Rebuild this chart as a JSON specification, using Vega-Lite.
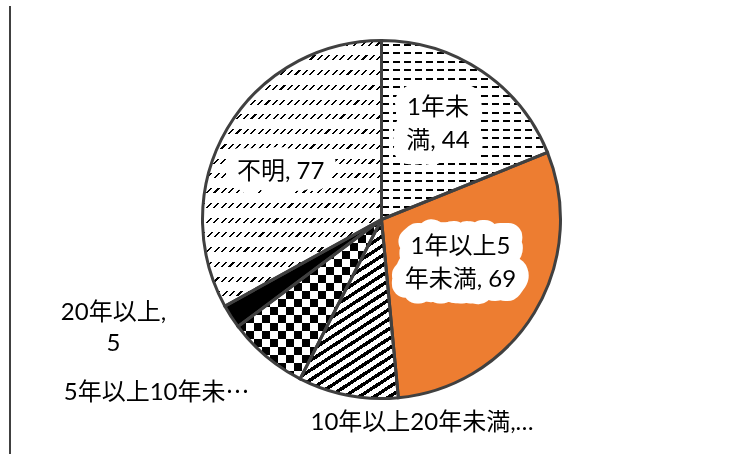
{
"$schema": "https://vega.github.io/schema/vega-lite/v6.json",
"width": 763,
"height": 439,
"autosize": {"type": "none"},
"padding": {"left": 0, "top": 0, "right": -23, "bottom": 15},
"background": "white",
"config": {"view": {"stroke": null}},
"data": {"values": [
{"cat": "1年未満", "value": 44, "order": 1, "label": "1年未\n満, 44"},
{"cat": "1年以上5年未満", "value": 69, "order": 2, "label": "1年以上5\n年未満, 69"},
{"cat": "10年以上20年未満", "value": 21, "order": 3, "label": "10年以上20年未満,…"},
{"cat": "5年以上10年未満", "value": 17, "order": 4, "label": "5年以上10年未⋯"},
{"cat": "20年以上", "value": 5, "order": 5, "label": "20年以上,\n5"},
{"cat": "不明", "value": 77, "order": 6, "label": "不明, 77"}
]},
"layer": [
{
"encoding": {
"theta": {"field": "value", "type": "quantitative", "stack": true},
"order": {"field": "order", "type": "quantitative"},
"detail": {"field": "cat", "type": "nominal"}
},
"layer": [
{
"mark": {"type": "arc", "outerRadius": 179, "strokeWidth": 0},
"encoding": {"fill": {"condition": [
{"test": "datum.order === 1", "value": {"gradient": "linear", "x1": 0, "y1": 0, "x2": 0, "y2": 1, "stops": [
{"offset":0,"color":"#fff"},
{"offset":0.018,"color":"#fff"},{"offset":0.018,"color":"#000"},{"offset":0.0292,"color":"#000"},{"offset":0.0292,"color":"#fff"},
{"offset":0.0656,"color":"#fff"},{"offset":0.0656,"color":"#000"},{"offset":0.0768,"color":"#000"},{"offset":0.0768,"color":"#fff"},
{"offset":0.1132,"color":"#fff"},{"offset":0.1132,"color":"#000"},{"offset":0.1244,"color":"#000"},{"offset":0.1244,"color":"#fff"},
{"offset":0.1609,"color":"#fff"},{"offset":0.1609,"color":"#000"},{"offset":0.1721,"color":"#000"},{"offset":0.1721,"color":"#fff"},
{"offset":0.2085,"color":"#fff"},{"offset":0.2085,"color":"#000"},{"offset":0.2197,"color":"#000"},{"offset":0.2197,"color":"#fff"},
{"offset":0.2561,"color":"#fff"},{"offset":0.2561,"color":"#000"},{"offset":0.2673,"color":"#000"},{"offset":0.2673,"color":"#fff"},
{"offset":0.3037,"color":"#fff"},{"offset":0.3037,"color":"#000"},{"offset":0.3149,"color":"#000"},{"offset":0.3149,"color":"#fff"},
{"offset":0.3513,"color":"#fff"},{"offset":0.3513,"color":"#000"},{"offset":0.3625,"color":"#000"},{"offset":0.3625,"color":"#fff"},
{"offset":0.399,"color":"#fff"},{"offset":0.399,"color":"#000"},{"offset":0.4102,"color":"#000"},{"offset":0.4102,"color":"#fff"},
{"offset":0.4466,"color":"#fff"},{"offset":0.4466,"color":"#000"},{"offset":0.4578,"color":"#000"},{"offset":0.4578,"color":"#fff"},
{"offset":0.4942,"color":"#fff"},{"offset":0.4942,"color":"#000"},{"offset":0.5054,"color":"#000"},{"offset":0.5054,"color":"#fff"},
{"offset":0.5418,"color":"#fff"},{"offset":0.5418,"color":"#000"},{"offset":0.553,"color":"#000"},{"offset":0.553,"color":"#fff"},
{"offset":0.5894,"color":"#fff"},{"offset":0.5894,"color":"#000"},{"offset":0.6006,"color":"#000"},{"offset":0.6006,"color":"#fff"},
{"offset":0.637,"color":"#fff"},{"offset":0.637,"color":"#000"},{"offset":0.6482,"color":"#000"},{"offset":0.6482,"color":"#fff"},
{"offset":0.6847,"color":"#fff"},{"offset":0.6847,"color":"#000"},{"offset":0.6959,"color":"#000"},{"offset":0.6959,"color":"#fff"},
{"offset":0.7323,"color":"#fff"},{"offset":0.7323,"color":"#000"},{"offset":0.7435,"color":"#000"},{"offset":0.7435,"color":"#fff"},
{"offset":0.7799,"color":"#fff"},{"offset":0.7799,"color":"#000"},{"offset":0.7911,"color":"#000"},{"offset":0.7911,"color":"#fff"},
{"offset":0.8275,"color":"#fff"},{"offset":0.8275,"color":"#000"},{"offset":0.8387,"color":"#000"},{"offset":0.8387,"color":"#fff"},
{"offset":0.8751,"color":"#fff"},{"offset":0.8751,"color":"#000"},{"offset":0.8863,"color":"#000"},{"offset":0.8863,"color":"#fff"},
{"offset":0.9228,"color":"#fff"},{"offset":0.9228,"color":"#000"},{"offset":0.934,"color":"#000"},{"offset":0.934,"color":"#fff"},
{"offset":0.9704,"color":"#fff"},{"offset":0.9704,"color":"#000"},{"offset":0.9816,"color":"#000"},{"offset":0.9816,"color":"#fff"},
{"offset":1,"color":"#fff"}]}},
{"test": "datum.order === 2", "value": "#ED7D31"},
{"test": "datum.order === 3", "value": {"gradient": "linear", "x1": 0, "y1": 0, "x2": 0.428, "y2": 1.203, "stops": [
{"offset":0,"color":"#000"},{"offset":0.0168,"color":"#000"},{"offset":0.0168,"color":"#fff"},{"offset":0.04,"color":"#fff"},
{"offset":0.04,"color":"#000"},{"offset":0.0568,"color":"#000"},{"offset":0.0568,"color":"#fff"},{"offset":0.08,"color":"#fff"},
{"offset":0.08,"color":"#000"},{"offset":0.0968,"color":"#000"},{"offset":0.0968,"color":"#fff"},{"offset":0.12,"color":"#fff"},
{"offset":0.12,"color":"#000"},{"offset":0.1368,"color":"#000"},{"offset":0.1368,"color":"#fff"},{"offset":0.16,"color":"#fff"},
{"offset":0.16,"color":"#000"},{"offset":0.1768,"color":"#000"},{"offset":0.1768,"color":"#fff"},{"offset":0.2,"color":"#fff"},
{"offset":0.2,"color":"#000"},{"offset":0.2168,"color":"#000"},{"offset":0.2168,"color":"#fff"},{"offset":0.24,"color":"#fff"},
{"offset":0.24,"color":"#000"},{"offset":0.2568,"color":"#000"},{"offset":0.2568,"color":"#fff"},{"offset":0.28,"color":"#fff"},
{"offset":0.28,"color":"#000"},{"offset":0.2968,"color":"#000"},{"offset":0.2968,"color":"#fff"},{"offset":0.32,"color":"#fff"},
{"offset":0.32,"color":"#000"},{"offset":0.3368,"color":"#000"},{"offset":0.3368,"color":"#fff"},{"offset":0.36,"color":"#fff"},
{"offset":0.36,"color":"#000"},{"offset":0.3768,"color":"#000"},{"offset":0.3768,"color":"#fff"},{"offset":0.4,"color":"#fff"},
{"offset":0.4,"color":"#000"},{"offset":0.4168,"color":"#000"},{"offset":0.4168,"color":"#fff"},{"offset":0.44,"color":"#fff"},
{"offset":0.44,"color":"#000"},{"offset":0.4568,"color":"#000"},{"offset":0.4568,"color":"#fff"},{"offset":0.48,"color":"#fff"},
{"offset":0.48,"color":"#000"},{"offset":0.4968,"color":"#000"},{"offset":0.4968,"color":"#fff"},{"offset":0.52,"color":"#fff"},
{"offset":0.52,"color":"#000"},{"offset":0.5368,"color":"#000"},{"offset":0.5368,"color":"#fff"},{"offset":0.56,"color":"#fff"},
{"offset":0.56,"color":"#000"},{"offset":0.5768,"color":"#000"},{"offset":0.5768,"color":"#fff"},{"offset":0.6,"color":"#fff"},
{"offset":0.6,"color":"#000"},{"offset":0.6168,"color":"#000"},{"offset":0.6168,"color":"#fff"},{"offset":0.64,"color":"#fff"},
{"offset":0.64,"color":"#000"},{"offset":0.6568,"color":"#000"},{"offset":0.6568,"color":"#fff"},{"offset":0.68,"color":"#fff"},
{"offset":0.68,"color":"#000"},{"offset":0.6968,"color":"#000"},{"offset":0.6968,"color":"#fff"},{"offset":0.72,"color":"#fff"},
{"offset":0.72,"color":"#000"},{"offset":0.7368,"color":"#000"},{"offset":0.7368,"color":"#fff"},{"offset":0.76,"color":"#fff"},
{"offset":0.76,"color":"#000"},{"offset":0.7768,"color":"#000"},{"offset":0.7768,"color":"#fff"},{"offset":0.8,"color":"#fff"},
{"offset":0.8,"color":"#000"},{"offset":0.8168,"color":"#000"},{"offset":0.8168,"color":"#fff"},{"offset":0.84,"color":"#fff"},
{"offset":0.84,"color":"#000"},{"offset":0.8568,"color":"#000"},{"offset":0.8568,"color":"#fff"},{"offset":0.88,"color":"#fff"},
{"offset":0.88,"color":"#000"},{"offset":0.8968,"color":"#000"},{"offset":0.8968,"color":"#fff"},{"offset":0.92,"color":"#fff"},
{"offset":0.92,"color":"#000"},{"offset":0.9368,"color":"#000"},{"offset":0.9368,"color":"#fff"},{"offset":0.96,"color":"#fff"},
{"offset":0.96,"color":"#000"},{"offset":0.9768,"color":"#000"},{"offset":0.9768,"color":"#fff"},{"offset":1,"color":"#fff"}]}},
{"test": "datum.order === 4", "value": {"gradient": "linear", "x1": 0, "y1": 0, "x2": 1, "y2": 0, "stops": [
{"offset":0,"color":"#000"},{"offset":0.0556,"color":"#000"},{"offset":0.0556,"color":"#fff"},{"offset":0.1111,"color":"#fff"},
{"offset":0.1111,"color":"#000"},{"offset":0.1667,"color":"#000"},{"offset":0.1667,"color":"#fff"},{"offset":0.2222,"color":"#fff"},
{"offset":0.2222,"color":"#000"},{"offset":0.2778,"color":"#000"},{"offset":0.2778,"color":"#fff"},{"offset":0.3333,"color":"#fff"},
{"offset":0.3333,"color":"#000"},{"offset":0.3889,"color":"#000"},{"offset":0.3889,"color":"#fff"},{"offset":0.4444,"color":"#fff"},
{"offset":0.4444,"color":"#000"},{"offset":0.5,"color":"#000"},{"offset":0.5,"color":"#fff"},{"offset":0.5556,"color":"#fff"},
{"offset":0.5556,"color":"#000"},{"offset":0.6111,"color":"#000"},{"offset":0.6111,"color":"#fff"},{"offset":0.6667,"color":"#fff"},
{"offset":0.6667,"color":"#000"},{"offset":0.7222,"color":"#000"},{"offset":0.7222,"color":"#fff"},{"offset":0.7778,"color":"#fff"},
{"offset":0.7778,"color":"#000"},{"offset":0.8333,"color":"#000"},{"offset":0.8333,"color":"#fff"},{"offset":0.8889,"color":"#fff"},
{"offset":0.8889,"color":"#000"},{"offset":0.9444,"color":"#000"},{"offset":0.9444,"color":"#fff"},{"offset":1,"color":"#fff"}]}},
{"test": "datum.order === 5", "value": "#000"},
{"test": "datum.order === 6", "value": {"gradient": "linear", "x1": 0, "y1": 0, "x2": 0.775, "y2": 1.151, "stops": [
{"offset":0,"color":"#000"},{"offset":0.0048,"color":"#000"},{"offset":0.0048,"color":"#fff"},{"offset":0.0167,"color":"#fff"},
{"offset":0.0167,"color":"#000"},{"offset":0.0215,"color":"#000"},{"offset":0.0215,"color":"#fff"},{"offset":0.0333,"color":"#fff"},
{"offset":0.0333,"color":"#000"},{"offset":0.0381,"color":"#000"},{"offset":0.0381,"color":"#fff"},{"offset":0.05,"color":"#fff"},
{"offset":0.05,"color":"#000"},{"offset":0.0548,"color":"#000"},{"offset":0.0548,"color":"#fff"},{"offset":0.0667,"color":"#fff"},
{"offset":0.0667,"color":"#000"},{"offset":0.0715,"color":"#000"},{"offset":0.0715,"color":"#fff"},{"offset":0.0833,"color":"#fff"},
{"offset":0.0833,"color":"#000"},{"offset":0.0881,"color":"#000"},{"offset":0.0881,"color":"#fff"},{"offset":0.1,"color":"#fff"},
{"offset":0.1,"color":"#000"},{"offset":0.1048,"color":"#000"},{"offset":0.1048,"color":"#fff"},{"offset":0.1167,"color":"#fff"},
{"offset":0.1167,"color":"#000"},{"offset":0.1215,"color":"#000"},{"offset":0.1215,"color":"#fff"},{"offset":0.1333,"color":"#fff"},
{"offset":0.1333,"color":"#000"},{"offset":0.1381,"color":"#000"},{"offset":0.1381,"color":"#fff"},{"offset":0.15,"color":"#fff"},
{"offset":0.15,"color":"#000"},{"offset":0.1548,"color":"#000"},{"offset":0.1548,"color":"#fff"},{"offset":0.1667,"color":"#fff"},
{"offset":0.1667,"color":"#000"},{"offset":0.1715,"color":"#000"},{"offset":0.1715,"color":"#fff"},{"offset":0.1833,"color":"#fff"},
{"offset":0.1833,"color":"#000"},{"offset":0.1881,"color":"#000"},{"offset":0.1881,"color":"#fff"},{"offset":0.2,"color":"#fff"},
{"offset":0.2,"color":"#000"},{"offset":0.2048,"color":"#000"},{"offset":0.2048,"color":"#fff"},{"offset":0.2167,"color":"#fff"},
{"offset":0.2167,"color":"#000"},{"offset":0.2215,"color":"#000"},{"offset":0.2215,"color":"#fff"},{"offset":0.2333,"color":"#fff"},
{"offset":0.2333,"color":"#000"},{"offset":0.2381,"color":"#000"},{"offset":0.2381,"color":"#fff"},{"offset":0.25,"color":"#fff"},
{"offset":0.25,"color":"#000"},{"offset":0.2548,"color":"#000"},{"offset":0.2548,"color":"#fff"},{"offset":0.2667,"color":"#fff"},
{"offset":0.2667,"color":"#000"},{"offset":0.2715,"color":"#000"},{"offset":0.2715,"color":"#fff"},{"offset":0.2833,"color":"#fff"},
{"offset":0.2833,"color":"#000"},{"offset":0.2881,"color":"#000"},{"offset":0.2881,"color":"#fff"},{"offset":0.3,"color":"#fff"},
{"offset":0.3,"color":"#000"},{"offset":0.3048,"color":"#000"},{"offset":0.3048,"color":"#fff"},{"offset":0.3167,"color":"#fff"},
{"offset":0.3167,"color":"#000"},{"offset":0.3215,"color":"#000"},{"offset":0.3215,"color":"#fff"},{"offset":0.3333,"color":"#fff"},
{"offset":0.3333,"color":"#000"},{"offset":0.3381,"color":"#000"},{"offset":0.3381,"color":"#fff"},{"offset":0.35,"color":"#fff"},
{"offset":0.35,"color":"#000"},{"offset":0.3548,"color":"#000"},{"offset":0.3548,"color":"#fff"},{"offset":0.3667,"color":"#fff"},
{"offset":0.3667,"color":"#000"},{"offset":0.3715,"color":"#000"},{"offset":0.3715,"color":"#fff"},{"offset":0.3833,"color":"#fff"},
{"offset":0.3833,"color":"#000"},{"offset":0.3881,"color":"#000"},{"offset":0.3881,"color":"#fff"},{"offset":0.4,"color":"#fff"},
{"offset":0.4,"color":"#000"},{"offset":0.4048,"color":"#000"},{"offset":0.4048,"color":"#fff"},{"offset":0.4167,"color":"#fff"},
{"offset":0.4167,"color":"#000"},{"offset":0.4215,"color":"#000"},{"offset":0.4215,"color":"#fff"},{"offset":0.4333,"color":"#fff"},
{"offset":0.4333,"color":"#000"},{"offset":0.4381,"color":"#000"},{"offset":0.4381,"color":"#fff"},{"offset":0.45,"color":"#fff"},
{"offset":0.45,"color":"#000"},{"offset":0.4548,"color":"#000"},{"offset":0.4548,"color":"#fff"},{"offset":0.4667,"color":"#fff"},
{"offset":0.4667,"color":"#000"},{"offset":0.4715,"color":"#000"},{"offset":0.4715,"color":"#fff"},{"offset":0.4833,"color":"#fff"},
{"offset":0.4833,"color":"#000"},{"offset":0.4881,"color":"#000"},{"offset":0.4881,"color":"#fff"},{"offset":0.5,"color":"#fff"},
{"offset":0.5,"color":"#000"},{"offset":0.5048,"color":"#000"},{"offset":0.5048,"color":"#fff"},{"offset":0.5167,"color":"#fff"},
{"offset":0.5167,"color":"#000"},{"offset":0.5215,"color":"#000"},{"offset":0.5215,"color":"#fff"},{"offset":0.5333,"color":"#fff"},
{"offset":0.5333,"color":"#000"},{"offset":0.5381,"color":"#000"},{"offset":0.5381,"color":"#fff"},{"offset":0.55,"color":"#fff"},
{"offset":0.55,"color":"#000"},{"offset":0.5548,"color":"#000"},{"offset":0.5548,"color":"#fff"},{"offset":0.5667,"color":"#fff"},
{"offset":0.5667,"color":"#000"},{"offset":0.5715,"color":"#000"},{"offset":0.5715,"color":"#fff"},{"offset":0.5833,"color":"#fff"},
{"offset":0.5833,"color":"#000"},{"offset":0.5881,"color":"#000"},{"offset":0.5881,"color":"#fff"},{"offset":0.6,"color":"#fff"},
{"offset":0.6,"color":"#000"},{"offset":0.6048,"color":"#000"},{"offset":0.6048,"color":"#fff"},{"offset":0.6167,"color":"#fff"},
{"offset":0.6167,"color":"#000"},{"offset":0.6215,"color":"#000"},{"offset":0.6215,"color":"#fff"},{"offset":0.6333,"color":"#fff"},
{"offset":0.6333,"color":"#000"},{"offset":0.6381,"color":"#000"},{"offset":0.6381,"color":"#fff"},{"offset":0.65,"color":"#fff"},
{"offset":0.65,"color":"#000"},{"offset":0.6548,"color":"#000"},{"offset":0.6548,"color":"#fff"},{"offset":0.6667,"color":"#fff"},
{"offset":0.6667,"color":"#000"},{"offset":0.6715,"color":"#000"},{"offset":0.6715,"color":"#fff"},{"offset":0.6833,"color":"#fff"},
{"offset":0.6833,"color":"#000"},{"offset":0.6881,"color":"#000"},{"offset":0.6881,"color":"#fff"},{"offset":0.7,"color":"#fff"},
{"offset":0.7,"color":"#000"},{"offset":0.7048,"color":"#000"},{"offset":0.7048,"color":"#fff"},{"offset":0.7167,"color":"#fff"},
{"offset":0.7167,"color":"#000"},{"offset":0.7215,"color":"#000"},{"offset":0.7215,"color":"#fff"},{"offset":0.7333,"color":"#fff"},
{"offset":0.7333,"color":"#000"},{"offset":0.7381,"color":"#000"},{"offset":0.7381,"color":"#fff"},{"offset":0.75,"color":"#fff"},
{"offset":0.75,"color":"#000"},{"offset":0.7548,"color":"#000"},{"offset":0.7548,"color":"#fff"},{"offset":0.7667,"color":"#fff"},
{"offset":0.7667,"color":"#000"},{"offset":0.7715,"color":"#000"},{"offset":0.7715,"color":"#fff"},{"offset":0.7833,"color":"#fff"},
{"offset":0.7833,"color":"#000"},{"offset":0.7881,"color":"#000"},{"offset":0.7881,"color":"#fff"},{"offset":0.8,"color":"#fff"},
{"offset":0.8,"color":"#000"},{"offset":0.8048,"color":"#000"},{"offset":0.8048,"color":"#fff"},{"offset":0.8167,"color":"#fff"},
{"offset":0.8167,"color":"#000"},{"offset":0.8215,"color":"#000"},{"offset":0.8215,"color":"#fff"},{"offset":0.8333,"color":"#fff"},
{"offset":0.8333,"color":"#000"},{"offset":0.8381,"color":"#000"},{"offset":0.8381,"color":"#fff"},{"offset":0.85,"color":"#fff"},
{"offset":0.85,"color":"#000"},{"offset":0.8548,"color":"#000"},{"offset":0.8548,"color":"#fff"},{"offset":0.8667,"color":"#fff"},
{"offset":0.8667,"color":"#000"},{"offset":0.8715,"color":"#000"},{"offset":0.8715,"color":"#fff"},{"offset":0.8833,"color":"#fff"},
{"offset":0.8833,"color":"#000"},{"offset":0.8881,"color":"#000"},{"offset":0.8881,"color":"#fff"},{"offset":0.9,"color":"#fff"},
{"offset":0.9,"color":"#000"},{"offset":0.9048,"color":"#000"},{"offset":0.9048,"color":"#fff"},{"offset":0.9167,"color":"#fff"},
{"offset":0.9167,"color":"#000"},{"offset":0.9215,"color":"#000"},{"offset":0.9215,"color":"#fff"},{"offset":0.9333,"color":"#fff"},
{"offset":0.9333,"color":"#000"},{"offset":0.9381,"color":"#000"},{"offset":0.9381,"color":"#fff"},{"offset":0.95,"color":"#fff"},
{"offset":0.95,"color":"#000"},{"offset":0.9548,"color":"#000"},{"offset":0.9548,"color":"#fff"},{"offset":0.9667,"color":"#fff"},
{"offset":0.9667,"color":"#000"},{"offset":0.9715,"color":"#000"},{"offset":0.9715,"color":"#fff"},{"offset":0.9833,"color":"#fff"},
{"offset":0.9833,"color":"#000"},{"offset":0.9881,"color":"#000"},{"offset":0.9881,"color":"#fff"},{"offset":1,"color":"#fff"}]}}
], "value": "#fff"}}
},
{
"mark": {"type": "arc", "outerRadius": 179, "strokeWidth": 0},
"encoding": {"fill": {"condition": [
{"test": "datum.order === 1", "value": {"gradient": "linear", "x1": 0, "y1": 0, "x2": 1, "y2": 0, "stops": [
{"offset":0,"color":"rgba(255,255,255,0)"},{"offset":0.0427,"color":"rgba(255,255,255,0)"},{"offset":0.0427,"color":"#fff"},{"offset":0.0667,"color":"#fff"},
{"offset":0.0667,"color":"rgba(255,255,255,0)"},{"offset":0.1094,"color":"rgba(255,255,255,0)"},{"offset":0.1094,"color":"#fff"},{"offset":0.1333,"color":"#fff"},
{"offset":0.1333,"color":"rgba(255,255,255,0)"},{"offset":0.176,"color":"rgba(255,255,255,0)"},{"offset":0.176,"color":"#fff"},{"offset":0.2,"color":"#fff"},
{"offset":0.2,"color":"rgba(255,255,255,0)"},{"offset":0.2427,"color":"rgba(255,255,255,0)"},{"offset":0.2427,"color":"#fff"},{"offset":0.2667,"color":"#fff"},
{"offset":0.2667,"color":"rgba(255,255,255,0)"},{"offset":0.3094,"color":"rgba(255,255,255,0)"},{"offset":0.3094,"color":"#fff"},{"offset":0.3333,"color":"#fff"},
{"offset":0.3333,"color":"rgba(255,255,255,0)"},{"offset":0.376,"color":"rgba(255,255,255,0)"},{"offset":0.376,"color":"#fff"},{"offset":0.4,"color":"#fff"},
{"offset":0.4,"color":"rgba(255,255,255,0)"},{"offset":0.4427,"color":"rgba(255,255,255,0)"},{"offset":0.4427,"color":"#fff"},{"offset":0.4667,"color":"#fff"},
{"offset":0.4667,"color":"rgba(255,255,255,0)"},{"offset":0.5094,"color":"rgba(255,255,255,0)"},{"offset":0.5094,"color":"#fff"},{"offset":0.5333,"color":"#fff"},
{"offset":0.5333,"color":"rgba(255,255,255,0)"},{"offset":0.576,"color":"rgba(255,255,255,0)"},{"offset":0.576,"color":"#fff"},{"offset":0.6,"color":"#fff"},
{"offset":0.6,"color":"rgba(255,255,255,0)"},{"offset":0.6427,"color":"rgba(255,255,255,0)"},{"offset":0.6427,"color":"#fff"},{"offset":0.6667,"color":"#fff"},
{"offset":0.6667,"color":"rgba(255,255,255,0)"},{"offset":0.7094,"color":"rgba(255,255,255,0)"},{"offset":0.7094,"color":"#fff"},{"offset":0.7333,"color":"#fff"},
{"offset":0.7333,"color":"rgba(255,255,255,0)"},{"offset":0.776,"color":"rgba(255,255,255,0)"},{"offset":0.776,"color":"#fff"},{"offset":0.8,"color":"#fff"},
{"offset":0.8,"color":"rgba(255,255,255,0)"},{"offset":0.8427,"color":"rgba(255,255,255,0)"},{"offset":0.8427,"color":"#fff"},{"offset":0.8667,"color":"#fff"},
{"offset":0.8667,"color":"rgba(255,255,255,0)"},{"offset":0.9094,"color":"rgba(255,255,255,0)"},{"offset":0.9094,"color":"#fff"},{"offset":0.9333,"color":"#fff"},
{"offset":0.9333,"color":"rgba(255,255,255,0)"},{"offset":0.976,"color":"rgba(255,255,255,0)"},{"offset":0.976,"color":"#fff"},{"offset":1,"color":"#fff"}]}},
{"test": "datum.order === 6", "value": {"gradient": "linear", "x1": 0, "y1": 0, "x2": 0, "y2": 1, "stops": [
{"offset":0,"color":"rgba(255,255,255,0)"},{"offset":0.0189,"color":"rgba(255,255,255,0)"},{"offset":0.0189,"color":"#fff"},{"offset":0.0556,"color":"#fff"},
{"offset":0.0556,"color":"rgba(255,255,255,0)"},{"offset":0.0745,"color":"rgba(255,255,255,0)"},{"offset":0.0745,"color":"#fff"},{"offset":0.1111,"color":"#fff"},
{"offset":0.1111,"color":"rgba(255,255,255,0)"},{"offset":0.13,"color":"rgba(255,255,255,0)"},{"offset":0.13,"color":"#fff"},{"offset":0.1667,"color":"#fff"},
{"offset":0.1667,"color":"rgba(255,255,255,0)"},{"offset":0.1856,"color":"rgba(255,255,255,0)"},{"offset":0.1856,"color":"#fff"},{"offset":0.2222,"color":"#fff"},
{"offset":0.2222,"color":"rgba(255,255,255,0)"},{"offset":0.2411,"color":"rgba(255,255,255,0)"},{"offset":0.2411,"color":"#fff"},{"offset":0.2778,"color":"#fff"},
{"offset":0.2778,"color":"rgba(255,255,255,0)"},{"offset":0.2967,"color":"rgba(255,255,255,0)"},{"offset":0.2967,"color":"#fff"},{"offset":0.3333,"color":"#fff"},
{"offset":0.3333,"color":"rgba(255,255,255,0)"},{"offset":0.3522,"color":"rgba(255,255,255,0)"},{"offset":0.3522,"color":"#fff"},{"offset":0.3889,"color":"#fff"},
{"offset":0.3889,"color":"rgba(255,255,255,0)"},{"offset":0.4078,"color":"rgba(255,255,255,0)"},{"offset":0.4078,"color":"#fff"},{"offset":0.4444,"color":"#fff"},
{"offset":0.4444,"color":"rgba(255,255,255,0)"},{"offset":0.4633,"color":"rgba(255,255,255,0)"},{"offset":0.4633,"color":"#fff"},{"offset":0.5,"color":"#fff"},
{"offset":0.5,"color":"rgba(255,255,255,0)"},{"offset":0.5189,"color":"rgba(255,255,255,0)"},{"offset":0.5189,"color":"#fff"},{"offset":0.5556,"color":"#fff"},
{"offset":0.5556,"color":"rgba(255,255,255,0)"},{"offset":0.5745,"color":"rgba(255,255,255,0)"},{"offset":0.5745,"color":"#fff"},{"offset":0.6111,"color":"#fff"},
{"offset":0.6111,"color":"rgba(255,255,255,0)"},{"offset":0.63,"color":"rgba(255,255,255,0)"},{"offset":0.63,"color":"#fff"},{"offset":0.6667,"color":"#fff"},
{"offset":0.6667,"color":"rgba(255,255,255,0)"},{"offset":0.6856,"color":"rgba(255,255,255,0)"},{"offset":0.6856,"color":"#fff"},{"offset":0.7222,"color":"#fff"},
{"offset":0.7222,"color":"rgba(255,255,255,0)"},{"offset":0.7411,"color":"rgba(255,255,255,0)"},{"offset":0.7411,"color":"#fff"},{"offset":0.7778,"color":"#fff"},
{"offset":0.7778,"color":"rgba(255,255,255,0)"},{"offset":0.7967,"color":"rgba(255,255,255,0)"},{"offset":0.7967,"color":"#fff"},{"offset":0.8333,"color":"#fff"},
{"offset":0.8333,"color":"rgba(255,255,255,0)"},{"offset":0.8522,"color":"rgba(255,255,255,0)"},{"offset":0.8522,"color":"#fff"},{"offset":0.8889,"color":"#fff"},
{"offset":0.8889,"color":"rgba(255,255,255,0)"},{"offset":0.9078,"color":"rgba(255,255,255,0)"},{"offset":0.9078,"color":"#fff"},{"offset":0.9444,"color":"#fff"},
{"offset":0.9444,"color":"rgba(255,255,255,0)"},{"offset":0.9633,"color":"rgba(255,255,255,0)"},{"offset":0.9633,"color":"#fff"},{"offset":1,"color":"#fff"}]}}
], "value": "rgba(255,255,255,0)"}}
},
{
"mark": {"type": "arc", "outerRadius": 179, "strokeWidth": 0, "blend": "difference"},
"encoding": {"fill": {"condition": [
{"test": "datum.order === 4", "value": {"gradient": "linear", "x1": 0, "y1": 0, "x2": 0, "y2": 1, "stops": [
{"offset":0,"color":"#fff"},{"offset":0.05,"color":"#fff"},{"offset":0.05,"color":"rgba(0,0,0,0)"},{"offset":0.1,"color":"rgba(0,0,0,0)"},
{"offset":0.1,"color":"#fff"},{"offset":0.15,"color":"#fff"},{"offset":0.15,"color":"rgba(0,0,0,0)"},{"offset":0.2,"color":"rgba(0,0,0,0)"},
{"offset":0.2,"color":"#fff"},{"offset":0.25,"color":"#fff"},{"offset":0.25,"color":"rgba(0,0,0,0)"},{"offset":0.3,"color":"rgba(0,0,0,0)"},
{"offset":0.3,"color":"#fff"},{"offset":0.35,"color":"#fff"},{"offset":0.35,"color":"rgba(0,0,0,0)"},{"offset":0.4,"color":"rgba(0,0,0,0)"},
{"offset":0.4,"color":"#fff"},{"offset":0.45,"color":"#fff"},{"offset":0.45,"color":"rgba(0,0,0,0)"},{"offset":0.5,"color":"rgba(0,0,0,0)"},
{"offset":0.5,"color":"#fff"},{"offset":0.55,"color":"#fff"},{"offset":0.55,"color":"rgba(0,0,0,0)"},{"offset":0.6,"color":"rgba(0,0,0,0)"},
{"offset":0.6,"color":"#fff"},{"offset":0.65,"color":"#fff"},{"offset":0.65,"color":"rgba(0,0,0,0)"},{"offset":0.7,"color":"rgba(0,0,0,0)"},
{"offset":0.7,"color":"#fff"},{"offset":0.75,"color":"#fff"},{"offset":0.75,"color":"rgba(0,0,0,0)"},{"offset":0.8,"color":"rgba(0,0,0,0)"},
{"offset":0.8,"color":"#fff"},{"offset":0.85,"color":"#fff"},{"offset":0.85,"color":"rgba(0,0,0,0)"},{"offset":0.9,"color":"rgba(0,0,0,0)"},
{"offset":0.9,"color":"#fff"},{"offset":0.95,"color":"#fff"},{"offset":0.95,"color":"rgba(0,0,0,0)"},{"offset":1,"color":"rgba(0,0,0,0)"}]}}
], "value": "rgba(0,0,0,0)"}}
},
{
"mark": {"type": "text", "radius": 110, "dx": -5, "dy": -20, "font": "Lato, Noto Sans CJK JP", "fontSize": 24, "lineBreak": "\n", "lineHeight": 33, "align": "center", "baseline": "middle", "fill": "#fff", "stroke": "#fff", "strokeWidth": 28, "strokeJoin": "round"},
"encoding": {"text": {"condition": {"test": "datum.order === 1", "field": "label"}, "value": ""}}
},
{
"mark": {"type": "text", "radius": 90, "dx": 2, "dy": -19, "font": "Lato, Noto Sans CJK JP", "fontSize": 24, "lineBreak": "\n", "lineHeight": 33, "align": "center", "baseline": "middle", "fill": "#fff", "stroke": "#fff", "strokeWidth": 28, "strokeJoin": "round"},
"encoding": {"text": {"condition": {"test": "datum.order === 2", "field": "label"}, "value": ""}}
},
{
"mark": {"type": "text", "radius": 110, "dx": -6, "dy": 8, "font": "Lato, Noto Sans CJK JP", "fontSize": 24, "lineBreak": "\n", "lineHeight": 33, "align": "center", "baseline": "middle", "fill": "#fff", "stroke": "#fff", "strokeWidth": 24, "strokeJoin": "round"},
"encoding": {"text": {"condition": {"test": "datum.order === 6", "field": "label"}, "value": ""}}
},
{
"mark": {"type": "arc", "outerRadius": 179, "fill": "#fff", "fillOpacity": 0, "stroke": "#404040", "strokeWidth": 3},
"encoding": {}
},
{
"mark": {"type": "text", "radius": 110, "dx": -5, "dy": -20, "font": "Lato, Noto Sans CJK JP", "fontSize": 24, "lineBreak": "\n", "lineHeight": 33, "align": "center", "baseline": "middle", "fill": "#000"},
"encoding": {"text": {"condition": {"test": "datum.order === 1", "field": "label"}, "value": ""}}
},
{
"mark": {"type": "text", "radius": 90, "dx": 2, "dy": -19, "font": "Lato, Noto Sans CJK JP", "fontSize": 24, "lineBreak": "\n", "lineHeight": 33, "align": "center", "baseline": "middle", "fill": "#000"},
"encoding": {"text": {"condition": {"test": "datum.order === 2", "field": "label"}, "value": ""}}
},
{
"mark": {"type": "text", "radius": 110, "dx": -6, "dy": 8, "font": "Lato, Noto Sans CJK JP", "fontSize": 24, "lineBreak": "\n", "lineHeight": 33, "align": "center", "baseline": "middle", "fill": "#000"},
"encoding": {"text": {"condition": {"test": "datum.order === 6", "field": "label"}, "value": ""}}
},
{
"mark": {"type": "text", "radius": 205, "dx": 79, "dy": 2, "font": "Lato, Noto Sans CJK JP", "fontSize": 24, "lineBreak": "\n", "lineHeight": 33, "align": "center", "baseline": "middle", "fill": "#000"},
"encoding": {"text": {"condition": {"test": "datum.order === 3", "field": "label"}, "value": ""}}
},
{
"mark": {"type": "text", "radius": 220, "dx": -83, "dy": 5, "font": "Lato, Noto Sans CJK JP", "fontSize": 24, "lineBreak": "\n", "lineHeight": 33, "align": "center", "baseline": "middle", "fill": "#000"},
"encoding": {"text": {"condition": {"test": "datum.order === 4", "field": "label"}, "value": ""}}
},
{
"mark": {"type": "text", "radius": 200, "dx": -100, "dy": -15, "font": "Lato, Noto Sans CJK JP", "fontSize": 24, "lineBreak": "\n", "lineHeight": 31, "align": "center", "baseline": "middle", "fill": "#000"},
"encoding": {"text": {"condition": {"test": "datum.order === 5", "field": "label"}, "value": ""}}
}
]
},
{
"data": {"values": [{}]},
"mark": {"type": "rule", "color": "#404040", "strokeWidth": 2},
"encoding": {"x": {"value": 10}, "y": {"value": 6}, "y2": {"value": 454}}
}
]
}
